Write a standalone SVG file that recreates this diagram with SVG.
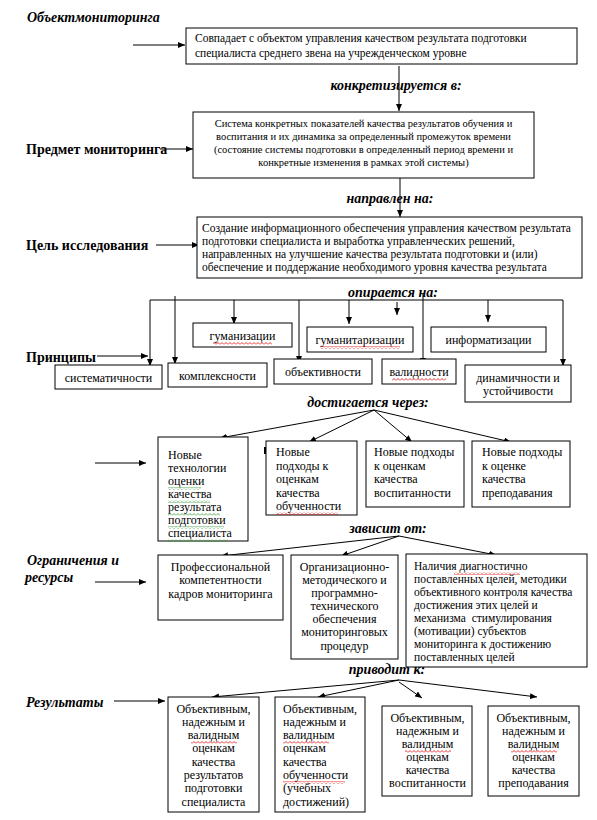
<svg xmlns="http://www.w3.org/2000/svg" width="597" height="820" viewBox="0 0 597 820">
<style>
.bg{fill:#fff}
.box{fill:#fff;stroke:#000;stroke-width:1}
.t{font-family:"Liberation Serif","Times New Roman",serif;font-size:12px;fill:#000}
.s{font-size:11.5px}
.xs{font-size:10.5px}
.c{text-anchor:middle}
.lbl{font-family:"Liberation Serif","Times New Roman",serif;font-size:14px;font-weight:bold;font-style:italic;fill:#000}
.hd{font-family:"Liberation Serif","Times New Roman",serif;font-size:14px;font-weight:bold;fill:#000}
.ln{stroke:#000;stroke-width:1;fill:none}
.ar{stroke:#000;stroke-width:1;fill:none;marker-end:url(#ah)}
.wr{fill:url(#wavyR)}
.wg{fill:url(#wavyG)}
</style>
<defs>
<marker id="ah" markerWidth="7" markerHeight="6" refX="7" refY="3" orient="auto" markerUnits="userSpaceOnUse">
<path d="M0,0 L7,3 L0,6 Z" fill="#000"/>
</marker>
<pattern id="wavyR" width="4" height="3" patternUnits="userSpaceOnUse">
<path d="M0,2.5 L2,0.5 L4,2.5" stroke="#e00000" stroke-width="0.8" fill="none"/>
</pattern>
<pattern id="wavyG" width="4" height="3" patternUnits="userSpaceOnUse">
<path d="M0,2.5 L2,0.5 L4,2.5" stroke="#2e9a2e" stroke-width="0.8" fill="none"/>
</pattern>
</defs>
<rect class="bg" x="0" y="0" width="597" height="820"/>

<g id="labels">
<text class="lbl" x="27" y="22">Объектмониторинга</text>
<text class="lbl c" x="396" y="90">конкретизируется в:</text>
<text class="hd" x="26" y="154">Предмет мониторинга</text>
<text class="lbl c" x="390" y="203">направлен на:</text>
<text class="hd" x="26" y="250">Цель исследования</text>
<text class="lbl c" x="393" y="297">опирается на:</text>
<text class="hd" x="26" y="362">Принципы</text>
<text class="lbl c" x="368" y="407">достигается через:</text>
<text class="lbl c" x="388" y="533">зависит от:</text>
<text class="lbl" x="27" y="565" textLength="92" lengthAdjust="spacingAndGlyphs">Ограничения и</text>
<text class="lbl" x="25" y="582">ресурсы</text>
<text class="lbl c" x="387" y="674">приводит к:</text>
<text class="lbl" x="26" y="707">Результаты</text>
</g>

<g id="connectors">
<line class="ar" x1="133" y1="45" x2="185" y2="45"/>
<line class="ar" x1="399" y1="66" x2="399" y2="111"/>
<line class="ar" x1="160" y1="149" x2="193" y2="149"/>
<line class="ar" x1="400" y1="178" x2="400" y2="217"/>
<line class="ar" x1="156" y1="245" x2="199" y2="245"/>
<line class="ln" x1="150" y1="300" x2="563" y2="300"/>
<line class="ar" x1="150" y1="300" x2="150" y2="366"/>
<line class="ar" x1="175" y1="296" x2="175" y2="364"/>
<line class="ar" x1="234" y1="300" x2="234" y2="324"/>
<line class="ar" x1="299" y1="300" x2="299" y2="363"/>
<line class="ar" x1="349" y1="300" x2="349" y2="324"/>
<line class="ar" x1="397" y1="302" x2="397" y2="315"/>
<line class="ar" x1="423" y1="294" x2="423" y2="365"/>
<line class="ar" x1="488" y1="300" x2="488" y2="322"/>
<line class="ar" x1="563" y1="300" x2="563" y2="366"/>
<line class="ar" x1="97" y1="356" x2="148" y2="356"/>
<line class="ar" x1="374" y1="410" x2="220" y2="438"/>
<line class="ar" x1="374" y1="410" x2="309" y2="442"/>
<line class="ar" x1="374" y1="410" x2="412" y2="442"/>
<line class="ar" x1="374" y1="410" x2="511" y2="442"/>
<line class="ar" x1="95" y1="463" x2="146" y2="463"/>
<line class="ar" x1="399" y1="536" x2="221" y2="556"/>
<line class="ar" x1="399" y1="536" x2="341" y2="556"/>
<line class="ar" x1="399" y1="536" x2="496" y2="555"/>
<line class="ar" x1="95" y1="582" x2="146" y2="582"/>
<line class="ar" x1="399" y1="680" x2="212" y2="697"/>
<line class="ar" x1="399" y1="680" x2="318" y2="697"/>
<line class="ar" x1="399" y1="682" x2="422" y2="698"/>
<line class="ar" x1="399" y1="680" x2="537" y2="697"/>
<line class="ar" x1="114" y1="701" x2="165" y2="701"/>
</g>

<g id="box-object">
<rect class="box" x="186" y="28" width="391" height="36"/>
<text class="t s" x="195" y="42">Совпадает с объектом управления качеством результата подготовки</text>
<text class="t s" x="195" y="57">специалиста среднего звена на учрежденческом уровне</text>
</g>

<g id="box-subject">
<rect class="box" x="193" y="112" width="341" height="66"/>
<text class="t xs c" x="363.5" y="127">Система конкретных показателей качества результатов обучения и</text>
<text class="t xs c" x="363.5" y="140">воспитания и их динамика за определенный промежуток времени</text>
<text class="t xs c" x="363.5" y="153">(состояние системы подготовки в определенный период времени и</text>
<text class="t xs c" x="363.5" y="166">конкретные изменения в рамках этой системы)</text>
</g>

<g id="box-goal">
<rect class="box" x="197" y="217" width="385" height="61"/>
<text class="t s" x="202" y="232">Создание информационного обеспечения управления качеством результата</text>
<text class="t s" x="202" y="245">подготовки специалиста и выработка управленческих решений,</text>
<text class="t s" x="202" y="258">направленных на улучшение качества результата подготовки и (или)</text>
<text class="t s" x="202" y="271">обеспечение и поддержание необходимого уровня качества результата</text>
</g>

<g id="p-systematicity">
<rect class="box" x="55" y="365" width="107" height="24"/>
<text class="t c" x="108.5" y="382">систематичности</text>
</g>
<g id="p-complexity">
<rect class="box" x="168" y="363" width="99" height="24"/>
<text class="t c" x="217.5" y="380">комплексности</text>
</g>
<g id="p-humanization">
<rect class="box" x="193" y="323" width="99" height="24"/>
<text class="t c" x="242.5" y="340">гуманизации</text>
<rect class="wr" x="213" y="342" width="59" height="3"/>
</g>
<g id="p-objectivity">
<rect class="box" x="274" y="359" width="98" height="25"/>
<text class="t c" x="323" y="376">объективности</text>
</g>
<g id="p-humanitarization">
<rect class="box" x="307" y="327" width="106" height="25"/>
<text class="t c" x="360" y="344">гуманитаризации</text>
<rect class="wr" x="320" y="346" width="80" height="3"/>
</g>
<g id="p-validity">
<rect class="box" x="382" y="359" width="74" height="25"/>
<text class="t c" x="419" y="376">валидности</text>
<rect class="wr" x="392" y="378" width="54" height="3"/>
</g>
<g id="p-informatization">
<rect class="box" x="431" y="327" width="115" height="25"/>
<text class="t c" x="488.5" y="344">информатизации</text>
</g>
<g id="p-dynamics">
<rect class="box" x="465" y="365" width="106" height="37"/>
<text class="t c" x="518" y="382">динамичности и</text>
<text class="t c" x="518" y="395">устойчивости</text>
</g>

<g id="w-technologies">
<rect class="box" x="158" y="437" width="90" height="104"/>
<text class="t" x="168" y="459">Новые</text>
<text class="t" x="168" y="472">технологии</text>
<text class="t" x="168" y="485">оценки</text>
<rect class="wg" x="168" y="487" width="33" height="3"/>
<text class="t" x="168" y="498">качества</text>
<rect class="wg" x="168" y="500" width="42" height="3"/>
<text class="t" x="168" y="511">результата</text>
<rect class="wg" x="168" y="513" width="52" height="3"/>
<text class="t" x="168" y="524">подготовки</text>
<rect class="wg" x="168" y="526" width="56" height="3"/>
<text class="t" x="168" y="537">специалиста</text>
<rect class="wg" x="168" y="539" width="60" height="3"/>
</g>
<g id="w-learning">
<rect x="264" y="447" width="3" height="7" fill="#000"/>
<rect class="box" x="266" y="441" width="91" height="74"/>
<text class="t" x="276" y="456">Новые</text>
<text class="t" x="276" y="470">подходы к</text>
<text class="t" x="276" y="483">оценкам</text>
<text class="t" x="276" y="497">качества</text>
<text class="t" x="276" y="510">обученности</text>
<rect class="wr" x="276" y="512" width="62" height="3"/>
</g>
<g id="w-upbringing">
<rect class="box" x="366" y="441" width="98" height="66"/>
<text class="t" x="374" y="456">Новые подходы</text>
<text class="t" x="374" y="470">к оценкам</text>
<text class="t" x="374" y="483">качества</text>
<text class="t" x="374" y="497">воспитанности</text>
</g>
<g id="w-teaching">
<rect class="box" x="472" y="441" width="98" height="66"/>
<text class="t" x="482" y="456">Новые подходы</text>
<text class="t" x="482" y="470">к оценке</text>
<text class="t" x="482" y="483">качества</text>
<text class="t" x="482" y="497">преподавания</text>
</g>

<g id="r-competence">
<rect class="box" x="158" y="555" width="125" height="65"/>
<text class="t c" x="220.5" y="571">Профессиональной</text>
<text class="t c" x="220.5" y="584">компетентности</text>
<text class="t c" x="220.5" y="598">кадров мониторинга</text>
</g>
<g id="r-support">
<rect class="box" x="291" y="555" width="107" height="104"/>
<text class="t c" x="344.5" y="571">Организационно-</text>
<text class="t c" x="344.5" y="584">методического и</text>
<text class="t c" x="344.5" y="597">программно-</text>
<text class="t c" x="344.5" y="610">технического</text>
<text class="t c" x="344.5" y="623">обеспечения</text>
<text class="t c" x="344.5" y="636">мониторинговых</text>
<text class="t c" x="344.5" y="650">процедур</text>
</g>
<g id="r-goals">
<rect class="box" x="406" y="554" width="181" height="113"/>
<text class="t s" x="414" y="570">Наличия диагностично</text>
<rect class="wr" x="454" y="572" width="66" height="3"/>
<text class="t s" x="414" y="583">поставленных целей, методики</text>
<text class="t s" x="414" y="596">объективного контроля качества</text>
<text class="t s" x="414" y="609">достижения этих целей и</text>
<text class="t s" x="414" y="622" xml:space="preserve">механизма  стимулирования</text>
<text class="t s" x="414" y="635">(мотивации) субъектов</text>
<text class="t s" x="414" y="648">мониторинга к достижению</text>
<text class="t s" x="414" y="661">поставленных целей</text>
</g>

<g id="res-training">
<rect class="box" x="168" y="697" width="91" height="115"/>
<text class="t c" x="213.5" y="713">Объективным,</text>
<text class="t c" x="213.5" y="726">надежным и</text>
<text class="t c" x="213.5" y="739">валидным</text>
<rect class="wr" x="191" y="741" width="46" height="3"/>
<text class="t c" x="213.5" y="752">оценкам</text>
<text class="t c" x="213.5" y="766">качества</text>
<text class="t c" x="213.5" y="779">результатов</text>
<text class="t c" x="213.5" y="792">подготовки</text>
<text class="t c" x="213.5" y="806">специалиста</text>
</g>
<g id="res-learning">
<rect class="box" x="275" y="697" width="90" height="115"/>
<text class="t" x="283" y="713">Объективным,</text>
<text class="t" x="283" y="726">надежным и</text>
<text class="t" x="283" y="739">валидным</text>
<rect class="wr" x="283" y="741" width="46" height="3"/>
<text class="t" x="283" y="752">оценкам</text>
<text class="t" x="283" y="766">качества</text>
<text class="t" x="283" y="779">обученности</text>
<rect class="wr" x="283" y="781" width="62" height="3"/>
<text class="t" x="283" y="792">(учебных</text>
<text class="t" x="283" y="806">достижений)</text>
</g>
<g id="res-upbringing">
<rect class="box" x="382" y="706" width="90" height="90"/>
<text class="t c" x="427.5" y="722">Объективным,</text>
<text class="t c" x="427.5" y="735">надежным и</text>
<text class="t c" x="427.5" y="748">валидным</text>
<rect class="wr" x="405" y="750" width="46" height="3"/>
<text class="t c" x="427.5" y="761">оценкам</text>
<text class="t c" x="427.5" y="774">качества</text>
<text class="t c" x="427.5" y="787">воспитанности</text>
</g>
<g id="res-teaching">
<rect class="box" x="488" y="706" width="91" height="90"/>
<text class="t c" x="533.5" y="722">Объективным,</text>
<text class="t c" x="533.5" y="735">надежным и</text>
<text class="t c" x="533.5" y="748">валидным</text>
<rect class="wr" x="511" y="750" width="46" height="3"/>
<text class="t c" x="533.5" y="761">оценкам</text>
<text class="t c" x="533.5" y="774">качества</text>
<text class="t c" x="533.5" y="787">преподавания</text>
</g>
</svg>
